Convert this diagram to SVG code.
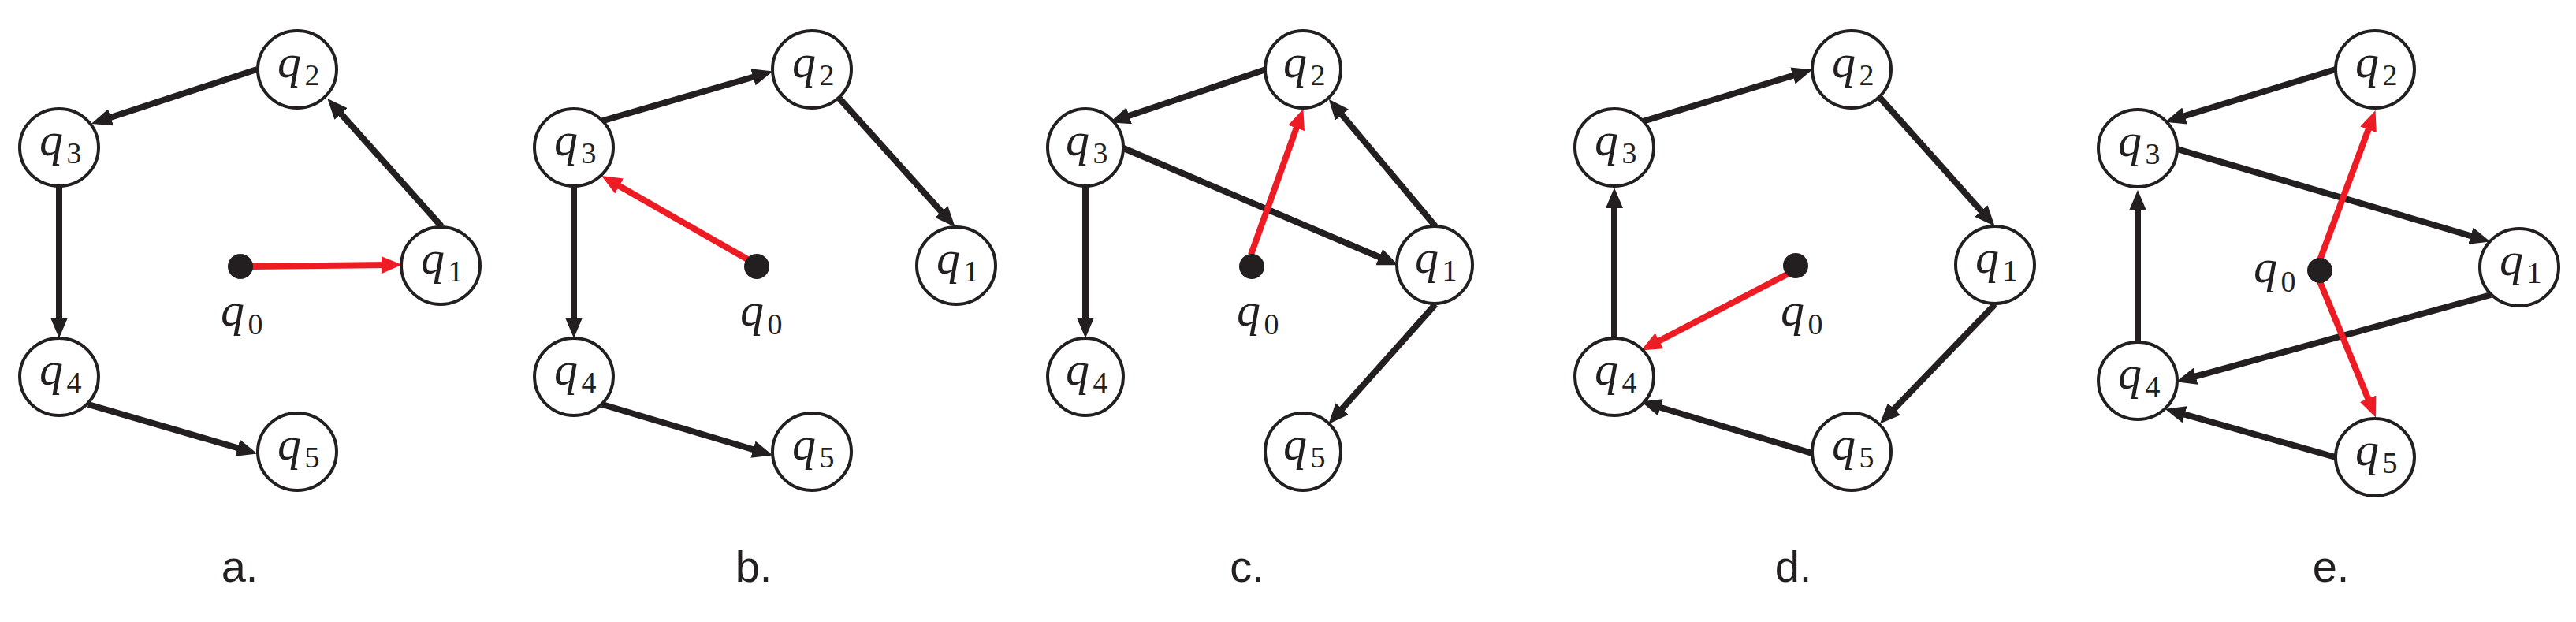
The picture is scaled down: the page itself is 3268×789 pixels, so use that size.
<svg xmlns="http://www.w3.org/2000/svg" width="3268" height="789" viewBox="0 0 3268 789">
<style>
.n ellipse{fill:#fff;stroke:#231f20;stroke-width:4}
.q{font-family:"Liberation Serif",serif;font-style:italic;font-size:60px;fill:#231f20;text-anchor:middle}
.s{font-family:"Liberation Serif",serif;font-size:38px;fill:#231f20;text-anchor:middle}
.lab{font-family:"Liberation Sans",sans-serif;font-size:56px;fill:#231f20;text-anchor:middle}
.e{stroke:#231f20;stroke-width:8;fill:none;marker-end:url(#ab)}
.r{stroke:#ed1c24;stroke-width:8;fill:none;marker-end:url(#ar)}
.dot{fill:#231f20}
</style>
<defs>
<marker id="ab" markerUnits="userSpaceOnUse" markerWidth="26" markerHeight="22" refX="10" refY="11" orient="auto"><path d="M0,0 L26,11 L0,22 z" fill="#231f20"/></marker>
<marker id="ar" markerUnits="userSpaceOnUse" markerWidth="26" markerHeight="22" refX="10" refY="11" orient="auto"><path d="M0,0 L26,11 L0,22 z" fill="#ed1c24"/></marker>
</defs>
<rect width="3268" height="789" fill="#fff"/>
<g id="connectors">
<line class="e" x1="326" y1="88" x2="131" y2="152"/>
<line class="e" x1="560" y1="287" x2="426" y2="137"/>
<line class="e" x1="75" y1="237" x2="75" y2="413"/>
<line class="e" x1="112" y1="513" x2="311" y2="571"/>
<line class="r" x1="320" y1="338" x2="494" y2="336"/>

<line class="e" x1="762" y1="154" x2="965" y2="95"/>
<line class="e" x1="1065" y1="125" x2="1201" y2="276"/>
<line class="e" x1="728" y1="237" x2="728" y2="413"/>
<line class="e" x1="764" y1="513" x2="965" y2="573"/>
<line class="r" x1="952" y1="331" x2="777" y2="231"/>

<line class="e" x1="1606" y1="88" x2="1423" y2="150"/>
<line class="e" x1="1821" y1="287" x2="1696" y2="138"/>
<line class="e" x1="1423" y1="187" x2="1759" y2="330"/>
<line class="e" x1="1377" y1="236" x2="1377" y2="413"/>
<line class="e" x1="1821" y1="386" x2="1696" y2="526"/>
<line class="r" x1="1587" y1="323" x2="1648" y2="153"/>

<line class="e" x1="2084" y1="154" x2="2284" y2="93"/>
<line class="e" x1="2385" y1="124" x2="2520" y2="275"/>
<line class="e" x1="2048" y1="430" x2="2048" y2="254"/>
<line class="e" x1="2531" y1="386" x2="2396" y2="526"/>
<line class="e" x1="2299" y1="575" x2="2097" y2="514"/>
<line class="r" x1="2269" y1="347" x2="2096" y2="437"/>

<line class="e" x1="2963" y1="88" x2="2762" y2="150"/>
<line class="e" x1="2762" y1="189" x2="3144" y2="302"/>
<line class="e" x1="2712" y1="436" x2="2712" y2="257"/>
<line class="e" x1="3160" y1="374" x2="2776" y2="480"/>
<line class="e" x1="2963" y1="580" x2="2762" y2="523"/>
<line class="r" x1="2943" y1="330" x2="3008" y2="155"/>
<line class="r" x1="2943" y1="357" x2="3008" y2="515"/>
</g>
<g id="a-q0"><circle class="dot" cx="305" cy="338" r="16"/><text class="q" x="295" y="413">q</text><text class="s" x="324" y="424">0</text></g>
<g id="a-q1" class="n"><ellipse cx="559" cy="337" rx="50" ry="49"/><text class="q" x="549" y="347">q</text><text class="s" x="578" y="357">1</text></g>
<g id="a-q2" class="n"><ellipse cx="377" cy="88" rx="50" ry="49"/><text class="q" x="367" y="98">q</text><text class="s" x="396" y="108">2</text></g>
<g id="a-q3" class="n"><ellipse cx="75" cy="187" rx="50" ry="49"/><text class="q" x="65" y="197">q</text><text class="s" x="94" y="207">3</text></g>
<g id="a-q4" class="n"><ellipse cx="75" cy="478" rx="50" ry="49"/><text class="q" x="65" y="488">q</text><text class="s" x="94" y="498">4</text></g>
<g id="a-q5" class="n"><ellipse cx="377" cy="573" rx="50" ry="49"/><text class="q" x="367" y="583">q</text><text class="s" x="396" y="593">5</text></g>
<text class="lab" x="304" y="738">a.</text>

<g id="b-q0"><circle class="dot" cx="960" cy="338" r="16"/><text class="q" x="954" y="413">q</text><text class="s" x="983" y="424">0</text></g>
<g id="b-q1" class="n"><ellipse cx="1213" cy="337" rx="50" ry="49"/><text class="q" x="1203" y="347">q</text><text class="s" x="1232" y="357">1</text></g>
<g id="b-q2" class="n"><ellipse cx="1030" cy="88" rx="50" ry="49"/><text class="q" x="1020" y="98">q</text><text class="s" x="1049" y="108">2</text></g>
<g id="b-q3" class="n"><ellipse cx="728" cy="187" rx="50" ry="49"/><text class="q" x="718" y="197">q</text><text class="s" x="747" y="207">3</text></g>
<g id="b-q4" class="n"><ellipse cx="728" cy="478" rx="50" ry="49"/><text class="q" x="718" y="488">q</text><text class="s" x="747" y="498">4</text></g>
<g id="b-q5" class="n"><ellipse cx="1030" cy="573" rx="50" ry="49"/><text class="q" x="1020" y="583">q</text><text class="s" x="1049" y="593">5</text></g>
<text class="lab" x="956" y="738">b.</text>

<g id="c-q0"><circle class="dot" cx="1588" cy="338" r="16"/><text class="q" x="1584" y="413">q</text><text class="s" x="1613" y="424">0</text></g>
<g id="c-q1" class="n"><ellipse cx="1820" cy="336" rx="48" ry="49"/><text class="q" x="1810" y="346">q</text><text class="s" x="1839" y="356">1</text></g>
<g id="c-q2" class="n"><ellipse cx="1653" cy="88" rx="48" ry="49"/><text class="q" x="1643" y="98">q</text><text class="s" x="1672" y="108">2</text></g>
<g id="c-q3" class="n"><ellipse cx="1377" cy="187" rx="48" ry="49"/><text class="q" x="1367" y="197">q</text><text class="s" x="1396" y="207">3</text></g>
<g id="c-q4" class="n"><ellipse cx="1377" cy="478" rx="48" ry="49"/><text class="q" x="1367" y="488">q</text><text class="s" x="1396" y="498">4</text></g>
<g id="c-q5" class="n"><ellipse cx="1653" cy="573" rx="48" ry="49"/><text class="q" x="1643" y="583">q</text><text class="s" x="1672" y="593">5</text></g>
<text class="lab" x="1582" y="738">c.</text>

<g id="d-q0"><circle class="dot" cx="2278" cy="337" r="16"/><text class="q" x="2274" y="413">q</text><text class="s" x="2303" y="424">0</text></g>
<g id="d-q1" class="n"><ellipse cx="2531" cy="336" rx="50" ry="49"/><text class="q" x="2521" y="346">q</text><text class="s" x="2550" y="356">1</text></g>
<g id="d-q2" class="n"><ellipse cx="2349" cy="88" rx="50" ry="49"/><text class="q" x="2339" y="98">q</text><text class="s" x="2368" y="108">2</text></g>
<g id="d-q3" class="n"><ellipse cx="2048" cy="187" rx="50" ry="49"/><text class="q" x="2038" y="197">q</text><text class="s" x="2067" y="207">3</text></g>
<g id="d-q4" class="n"><ellipse cx="2048" cy="478" rx="50" ry="49"/><text class="q" x="2038" y="488">q</text><text class="s" x="2067" y="498">4</text></g>
<g id="d-q5" class="n"><ellipse cx="2349" cy="573" rx="50" ry="49"/><text class="q" x="2339" y="583">q</text><text class="s" x="2368" y="593">5</text></g>
<text class="lab" x="2275" y="738">d.</text>

<g id="e-q0"><circle class="dot" cx="2943" cy="343" r="16"/><text class="q" x="2874" y="358">q</text><text class="s" x="2903" y="370">0</text></g>
<g id="e-q1" class="n"><ellipse cx="3196" cy="339" rx="50" ry="49"/><text class="q" x="3186" y="349">q</text><text class="s" x="3215" y="359">1</text></g>
<g id="e-q2" class="n"><ellipse cx="3013" cy="88" rx="50" ry="49"/><text class="q" x="3003" y="98">q</text><text class="s" x="3032" y="108">2</text></g>
<g id="e-q3" class="n"><ellipse cx="2712" cy="188" rx="50" ry="49"/><text class="q" x="2702" y="198">q</text><text class="s" x="2731" y="208">3</text></g>
<g id="e-q4" class="n"><ellipse cx="2712" cy="483" rx="50" ry="49"/><text class="q" x="2702" y="493">q</text><text class="s" x="2731" y="503">4</text></g>
<g id="e-q5" class="n"><ellipse cx="3013" cy="580" rx="50" ry="49"/><text class="q" x="3003" y="590">q</text><text class="s" x="3032" y="600">5</text></g>
<text class="lab" x="2957" y="738">e.</text>
</svg>
